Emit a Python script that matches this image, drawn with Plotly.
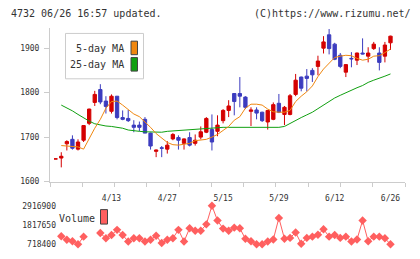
import plotly.graph_objects as go

W, H = 420, 259

dates = ["3/30", "3/31", "4/1", "4/2", "4/3", "4/6", "4/7", "4/8", "4/9", "4/10",
         "4/13", "4/14", "4/15", "4/16", "4/17", "4/20", "4/21", "4/22", "4/23", "4/24",
         "4/27", "4/28", "4/30", "5/1", "5/7", "5/8", "5/11", "5/12", "5/13", "5/14",
         "5/15", "5/18", "5/19", "5/20", "5/21", "5/22", "5/25", "5/26", "5/27", "5/28",
         "5/29", "6/1", "6/2", "6/3", "6/4", "6/5", "6/8", "6/9", "6/10", "6/11",
         "6/12", "6/15", "6/16", "6/17", "6/18", "6/19", "6/22", "6/23", "6/24", "6/25",
         "6/26"]

opens = [1651, 1653, 1685, 1695, 1673, 1693, 1731, 1778, 1807, 1781,
         1758, 1792, 1744, 1742, 1727, 1727, 1740, 1709, 1668, 1676,
         1673, 1696, 1699, 1686, 1699, 1686, 1700, 1711, 1717, 1713,
         1737, 1760, 1798, 1798, 1790, 1758, 1761, 1756, 1734, 1740,
         1776, 1751, 1751, 1796, 1835, 1837, 1850, 1859, 1900, 1930,
         1909, 1884, 1846, 1877, 1873, 1889, 1882, 1899, 1889, 1882,
         1912]
highs = [1651, 1666, 1693, 1704, 1695, 1727, 1764, 1804, 1819, 1792,
         1796, 1792, 1760, 1761, 1738, 1735, 1745, 1710, 1672, 1680,
         1691, 1709, 1704, 1697, 1711, 1706, 1724, 1745, 1751, 1749,
         1763, 1783, 1799, 1835, 1792, 1767, 1767, 1757, 1761, 1778,
         1797, 1770, 1797, 1842, 1836, 1853, 1855, 1883, 1927, 1943,
         1912, 1889, 1864, 1891, 1890, 1922, 1902, 1914, 1902, 1914,
         1928]
lows = [1651, 1632, 1670, 1672, 1670, 1689, 1727, 1770, 1774, 1753,
        1753, 1740, 1738, 1734, 1711, 1713, 1709, 1672, 1655, 1655,
        1663, 1693, 1672, 1672, 1679, 1681, 1695, 1709, 1670, 1702,
        1731, 1745, 1749, 1767, 1763, 1725, 1740, 1734, 1717, 1738,
        1754, 1727, 1749, 1792, 1803, 1803, 1824, 1839, 1888, 1886,
        1873, 1855, 1835, 1857, 1862, 1886, 1868, 1896, 1850, 1868,
        1896]
closes = [1651, 1657, 1690, 1675, 1689, 1726, 1763, 1796, 1779, 1769,
          1792, 1744, 1740, 1737, 1722, 1722, 1709, 1680, 1671, 1675,
          1682, 1706, 1693, 1696, 1682, 1693, 1712, 1742, 1689, 1727,
          1760, 1770, 1780, 1792, 1767, 1761, 1754, 1737, 1760, 1773,
          1756, 1767, 1793, 1828, 1810, 1832, 1840, 1871, 1914, 1899,
          1875, 1859, 1863, 1876, 1889, 1887, 1889, 1909, 1868, 1907,
          1927]

ma5 = [None, 1681, 1680, 1679, 1678, 1673, 1697, 1720, 1740, 1765,
       1780, 1781, 1772, 1763, 1752, 1746, 1735, 1722, 1708, 1697,
       1688, 1683, 1682, 1684, 1686, 1692, 1694, 1695, 1700, 1706,
       1715, 1724, 1738, 1746, 1765, 1774, 1774, 1772, 1763, 1757,
       1756, 1756, 1760, 1780, 1792, 1802, 1815, 1836, 1853, 1866,
       1879, 1882, 1884, 1883, 1877, 1873, 1875, 1882, 1883, 1890,
       1898]
ma25 = [None, 1772, 1766, 1759, 1751, 1743, 1736, 1730, 1727, 1725,
        1724, 1722, 1720, 1716, 1714, 1713, 1712, 1712, 1711, 1711,
        1713, 1714, 1715, 1716, 1717, 1718, 1718, 1720, 1721, 1722,
        1722, 1722, 1722, 1722, 1722, 1722, 1722, 1722, 1722, 1722,
        1722, 1724, 1731, 1738, 1744, 1750, 1756, 1764, 1772, 1780,
        1788, 1794, 1800, 1806, 1811, 1816, 1823, 1828, 1832, 1837,
        1842]

volume = [None, 1175000, 976700, 900000, 718400, 1158000, None, None, 1361000, 1065000,
          1251000, 1543000, 1251000, 883000, 1065000, 1065000, 883000, 976000, 1213000, 790000,
          976000, 1065000, 1543000, 883000, 1636000, 1488000, 1488000, 1856000, 2916900, 2076000,
          1614000, 1488000, 1670000, 1636000, 1032000, 900000, 718400, 718400, 883000, 993000,
          2219000, 1032000, 1087000, 1394000, 757000, 1087000, 1158000, 1268000, 1581000, 1158000,
          1251000, 1087000, 1158000, 883000, 993000, 2076000, 900000, 1158000, 1158000, 1065000,
          718400]

price_ticks = [1600, 1700, 1800, 1900]
vol_ticks = [718400, 1817650, 2916900]
label_dates = ["4/13", "4/27", "5/15", "5/29", "6/12", "6/26"]

idx = list(range(len(dates)))
label_idx = [dates.index(d) for d in label_dates]

FONT = "DejaVu Sans Mono"
TXT = "#333333"
AX = "#cccccc"
RED = "#d40000"
BLUE = "#3c3cbf"
ORANGE = "#f0870f"
GREEN = "#10a010"
VOLC = "#ff5f5f"


def px(x):
    return x / W


def py(y):
    return 1 - y / H


xr = [-1.02, 62.6]
xdom = [px(50), px(405)]
div_ticks = [xr[0] + k * (xr[1] - xr[0]) / 11 for k in range(12)]

fig = go.Figure()
fig.add_trace(go.Candlestick(
    x=idx, open=opens, high=highs, low=lows, close=closes,
    increasing=dict(line=dict(color=RED, width=1), fillcolor=RED),
    decreasing=dict(line=dict(color=BLUE, width=1), fillcolor=BLUE),
    whiskerwidth=0, hoverinfo="skip", showlegend=False,
    xaxis="x", yaxis="y"))
fig.add_trace(go.Scatter(x=idx, y=ma25, mode="lines",
                         line=dict(color=GREEN, width=1), showlegend=False,
                         hoverinfo="skip", xaxis="x", yaxis="y"))
fig.add_trace(go.Scatter(x=idx, y=ma5, mode="lines",
                         line=dict(color=ORANGE, width=1), showlegend=False,
                         hoverinfo="skip", xaxis="x", yaxis="y"))
fig.add_trace(go.Scatter(x=idx, y=volume, mode="lines+markers",
                         line=dict(color=VOLC, width=1),
                         marker=dict(symbol="diamond", size=6.5, color=VOLC),
                         connectgaps=False, cliponaxis=False, showlegend=False,
                         hoverinfo="skip", xaxis="x2", yaxis="y2"))

tickfont = dict(family=FONT, size=8, color=TXT)

fig.update_layout(
    width=W, height=H,
    margin=dict(l=0, r=0, t=0, b=0),
    paper_bgcolor="white", plot_bgcolor="white",
    boxgap=0.15,
    showlegend=False,
    xaxis=dict(domain=xdom, range=xr, anchor="y",
               tickvals=div_ticks, ticks="outside", ticklen=4, tickcolor=AX,
               showticklabels=False, showline=True, linecolor=AX, linewidth=1,
               showgrid=False, zeroline=False,
               rangeslider=dict(visible=False)),
    yaxis=dict(domain=[py(184), py(25)], range=[1600, 1945], anchor="x",
               tickvals=price_ticks, ticks="outside", ticklen=5, tickcolor=AX,
               showline=True, linecolor=AX, linewidth=1,
               showgrid=False, zeroline=False,
               tickfont=tickfont, ticklabelstandoff=3),
    xaxis2=dict(domain=xdom, range=xr, anchor="y2", side="top",
                tickvals=label_idx, ticktext=label_dates, ticks="",
                showline=False, showgrid=False, zeroline=False,
                tickfont=tickfont, ticklabelstandoff=2),
    yaxis2=dict(domain=[py(249), py(209)], range=[vol_ticks[0], vol_ticks[-1]],
                anchor="free", position=px(56),
                tickvals=vol_ticks, ticktext=[str(v) for v in vol_ticks],
                ticks="", showline=False, showgrid=False, zeroline=False,
                tickfont=tickfont),
)

shapes = [
    dict(type="rect", xref="paper", yref="paper",
         x0=px(65.5), x1=px(143.5), y0=py(77.5), y1=py(30.5),
         line=dict(color="#cccccc", width=1), fillcolor="white", layer="above"),
    dict(type="rect", xref="paper", yref="paper",
         x0=px(131), x1=px(137.5), y0=py(52.5), y1=py(38.5),
         line=dict(color="#444444", width=1), fillcolor=ORANGE, layer="above"),
    dict(type="rect", xref="paper", yref="paper",
         x0=px(131), x1=px(137.5), y0=py(69.5), y1=py(55.5),
         line=dict(color="#444444", width=1), fillcolor=GREEN, layer="above"),
    dict(type="rect", xref="paper", yref="paper",
         x0=px(100.5), x1=px(107.5), y0=py(228), y1=py(213),
         line=dict(color="#444444", width=1), fillcolor=VOLC, layer="above"),
]
fig.update_layout(shapes=shapes)

lab = dict(family=FONT, size=10, color=TXT)
annotations = [
    dict(text="4732 06/26 16:57 updated.", x=px(9), y=py(10), xref="paper", yref="paper",
         xanchor="left", yanchor="middle", showarrow=False, font=lab),
    dict(text="(C)https://www.rizumu.net/", x=px(413), y=py(10), xref="paper", yref="paper",
         xanchor="right", yanchor="middle", showarrow=False, font=lab),
    dict(text="5-day MA", x=px(126), y=py(46), xref="paper", yref="paper",
         xanchor="right", yanchor="middle", showarrow=False, font=lab),
    dict(text="25-day MA", x=px(126), y=py(63), xref="paper", yref="paper",
         xanchor="right", yanchor="middle", showarrow=False, font=lab),
    dict(text="Volume", x=px(57), y=py(222), xref="paper", yref="paper",
         xanchor="left", yanchor="middle", showarrow=False, font=lab),
]
fig.update_layout(annotations=annotations)

fig.write_html("out.html")
